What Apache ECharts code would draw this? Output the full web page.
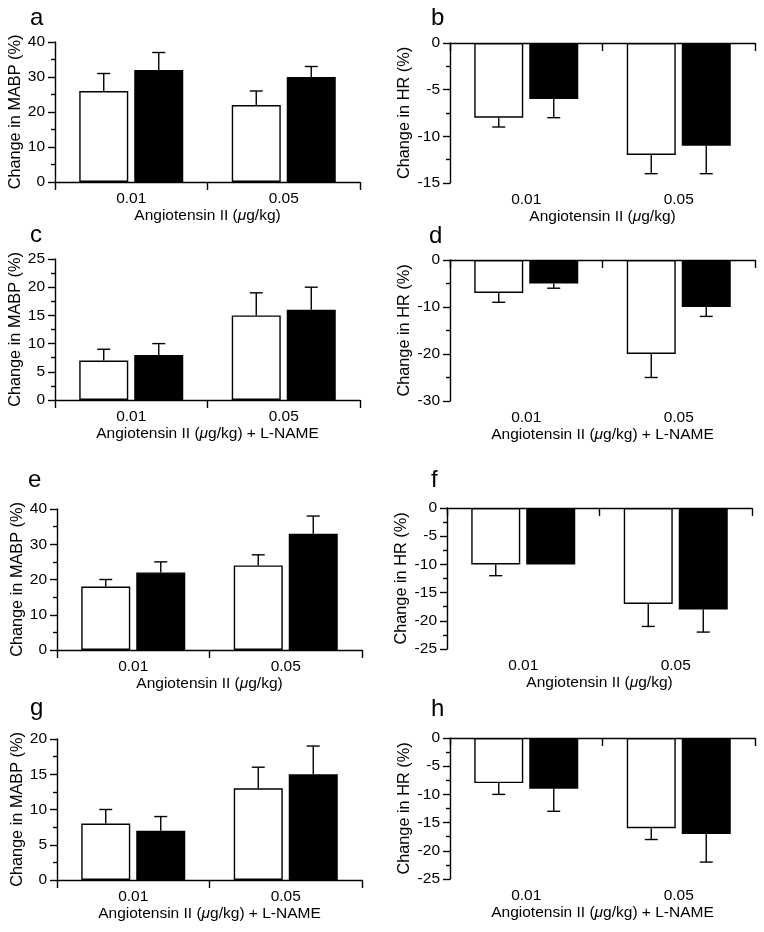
<!DOCTYPE html>
<html><head><meta charset="utf-8">
<script src="https://cdn.jsdelivr.net/npm/echarts@6/dist/echarts.min.js"></script>
<style>html,body{margin:0;padding:0;background:#fff}#c{width:764px;height:932px}</style>
</head><body><div id="c"></div>
<script>
// ---- data ----
const categories = ['0.01', '0.05'];

const a_white = [26, 22], a_whiteErr = [5, 4], a_black = [32, 30], a_blackErr = [5, 3];
const b_white = [-8, -12], b_whiteErr = [1, 2], b_black = [-6, -11], b_blackErr = [2, 3];
const c_white = [7, 15], c_whiteErr = [2, 4], c_black = [8, 16], c_blackErr = [2, 4];
const d_white = [-7, -20], d_whiteErr = [2, 5], d_black = [-5, -10], d_blackErr = [1, 2];
const e_white = [18, 24], e_whiteErr = [2, 3], e_black = [22, 33], e_blackErr = [3, 5];
const f_white = [-10, -17], f_whiteErr = [2, 4], f_black = [-10, -18], f_blackErr = [0, 4];
const g_white = [8, 13], g_whiteErr = [2, 3], g_black = [7, 15], g_blackErr = [2, 4];
const h_white = [-8, -16], h_whiteErr = [2, 2], h_black = [-9, -17], h_blackErr = [4, 5];

// y-axis ranges [min, max, interval]
const a_yRange = [0, 40, 10], b_yRange = [-15, 0, 5], c_yRange = [0, 25, 5], d_yRange = [-30, 0, 10];
const e_yRange = [0, 40, 10], f_yRange = [-25, 0, 5], g_yRange = [0, 20, 5], h_yRange = [-25, 0, 5];

const yTitleMABP = 'Change in MABP (%)';
const yTitleHR = 'Change in HR (%)';
const xTitleSuffix = ['', '', ' + L-NAME', ' + L-NAME', '', '', ' + L-NAME', ' + L-NAME'];
const panelLetters = ['a', 'b', 'c', 'd', 'e', 'f', 'g', 'h'];

// ---- layout ----
const FONT = '"Liberation Sans", Arial, Helvetica, sans-serif';
const layout = [
  {left: 55, top: 42, width: 305, height: 140},
  {left: 450, top: 43, width: 305, height: 140},
  {left: 55, top: 259, width: 305, height: 141},
  {left: 450, top: 260, width: 305, height: 141},
  {left: 57, top: 509, width: 305, height: 141},
  {left: 447, top: 508, width: 305, height: 141},
  {left: 57, top: 739, width: 305, height: 141},
  {left: 450, top: 738, width: 305, height: 141}
];
const letterPos = [[30, 30], [431, 30], [30, 247], [429, 248], [28, 492], [431, 492], [30, 720], [431, 721]];

const panels = [
  {w: a_white, we: a_whiteErr, b: a_black, be: a_blackErr, r: a_yRange, yt: yTitleMABP},
  {w: b_white, we: b_whiteErr, b: b_black, be: b_blackErr, r: b_yRange, yt: yTitleHR},
  {w: c_white, we: c_whiteErr, b: c_black, be: c_blackErr, r: c_yRange, yt: yTitleMABP},
  {w: d_white, we: d_whiteErr, b: d_black, be: d_blackErr, r: d_yRange, yt: yTitleHR},
  {w: e_white, we: e_whiteErr, b: e_black, be: e_blackErr, r: e_yRange, yt: yTitleMABP},
  {w: f_white, we: f_whiteErr, b: f_black, be: f_blackErr, r: f_yRange, yt: yTitleHR},
  {w: g_white, we: g_whiteErr, b: g_black, be: g_blackErr, r: g_yRange, yt: yTitleMABP},
  {w: h_white, we: h_whiteErr, b: h_black, be: h_blackErr, r: h_yRange, yt: yTitleHR}
];

const BAR_W = 49, BAR_GAP = 6;
const LINE = {color: '#000', width: 1.4};
const txt = {color: '#000', fontFamily: FONT, fontSize: 15.5};

const grid = [], xAxis = [], yAxis = [], series = [], graphic = [];

function errData(mean, err) {
  return mean.map((m, i) => {
    const end = m >= 0 ? m + err[i] : m - err[i];
    return [i, m, end];
  });
}
function errSeries(xi, yi, data, sign) {
  return {
    type: 'custom', xAxisIndex: xi, yAxisIndex: yi, z: 1, silent: true,
    data: data,
    renderItem: function (params, api) {
      const p0 = api.coord([api.value(0), api.value(1)]);
      const p1 = api.coord([api.value(0), api.value(2)]);
      if (Math.abs(p1[1] - p0[1]) < 0.5) return {type: 'group', children: []};
      const x = p0[0] + sign * (BAR_W + BAR_GAP) / 2;
      const style = {stroke: '#000', lineWidth: 1.4};
      return {type: 'group', children: [
        {type: 'line', shape: {x1: x, y1: p0[1], x2: x, y2: p1[1]}, style: style},
        {type: 'line', shape: {x1: x - 6.5, y1: p1[1], x2: x + 6.5, y2: p1[1]}, style: style}
      ]};
    }
  };
}

panels.forEach((p, gi) => {
  grid.push(Object.assign({}, layout[gi]));
  const neg = p.r[0] < 0;
  xAxis.push({
    type: 'category', gridIndex: gi, data: categories, position: 'bottom',
    axisLine: {show: !neg, onZero: false, lineStyle: LINE},
    axisTick: {show: !neg, length: 8, lineStyle: LINE},
    axisLabel: Object.assign({margin: 9}, txt),
    name: '{n|Angiotensin II (}{i|\u03bc}{n|g/kg)' + xTitleSuffix[gi] + '}',
    nameLocation: 'middle', nameGap: 26,
    nameTextStyle: {rich: {n: Object.assign({}, txt), i: Object.assign({fontStyle: 'italic'}, txt)}}
  });
  const xi = xAxis.length - 1;
  if (neg) {
    xAxis.push({
      type: 'category', gridIndex: gi, data: categories, position: 'top',
      axisLine: {show: true, onZero: false, lineStyle: LINE},
      axisTick: {show: true, inside: true, length: 8, lineStyle: LINE},
      axisLabel: {show: false}
    });
  }
  yAxis.push({
    type: 'value', gridIndex: gi, min: p.r[0], max: p.r[1], interval: p.r[2],
    axisLine: {show: true, lineStyle: LINE},
    axisTick: {show: true, length: 7, lineStyle: LINE},
    minorTick: {show: true, splitNumber: 2, length: 4, lineStyle: LINE},
    splitLine: {show: false}, minorSplitLine: {show: false},
    axisLabel: Object.assign({margin: 10}, txt),
    name: p.yt, nameLocation: 'middle', nameRotate: 90, nameGap: neg ? 37 : 30,
    nameTextStyle: Object.assign({}, txt, {fontSize: 16.3})
  });
  series.push({
    type: 'bar', xAxisIndex: xi, yAxisIndex: gi, data: p.w, barWidth: BAR_W, barGap: (BAR_GAP / BAR_W * 100) + '%',
    itemStyle: {color: '#fff', borderColor: '#000', borderWidth: 1.4}, z: 3, silent: true
  });
  series.push({
    type: 'bar', xAxisIndex: xi, yAxisIndex: gi, data: p.b, barWidth: BAR_W,
    itemStyle: {color: '#000', borderColor: '#000', borderWidth: 1.4}, z: 3, silent: true
  });
  series.push(errSeries(xi, gi, errData(p.w, p.we), -1));
  series.push(errSeries(xi, gi, errData(p.b, p.be), 1));
  graphic.push({
    type: 'text', x: letterPos[gi][0], y: letterPos[gi][1],
    style: {text: panelLetters[gi], font: '24px ' + FONT, fill: '#000', textVerticalAlign: 'bottom', verticalAlign: 'bottom'}
  });
});

const chart = echarts.init(document.getElementById('c'), null, {renderer: 'canvas'});
chart.setOption({animation: false, backgroundColor: '#fff', grid, xAxis, yAxis, series, graphic});
</script>
</body></html>
